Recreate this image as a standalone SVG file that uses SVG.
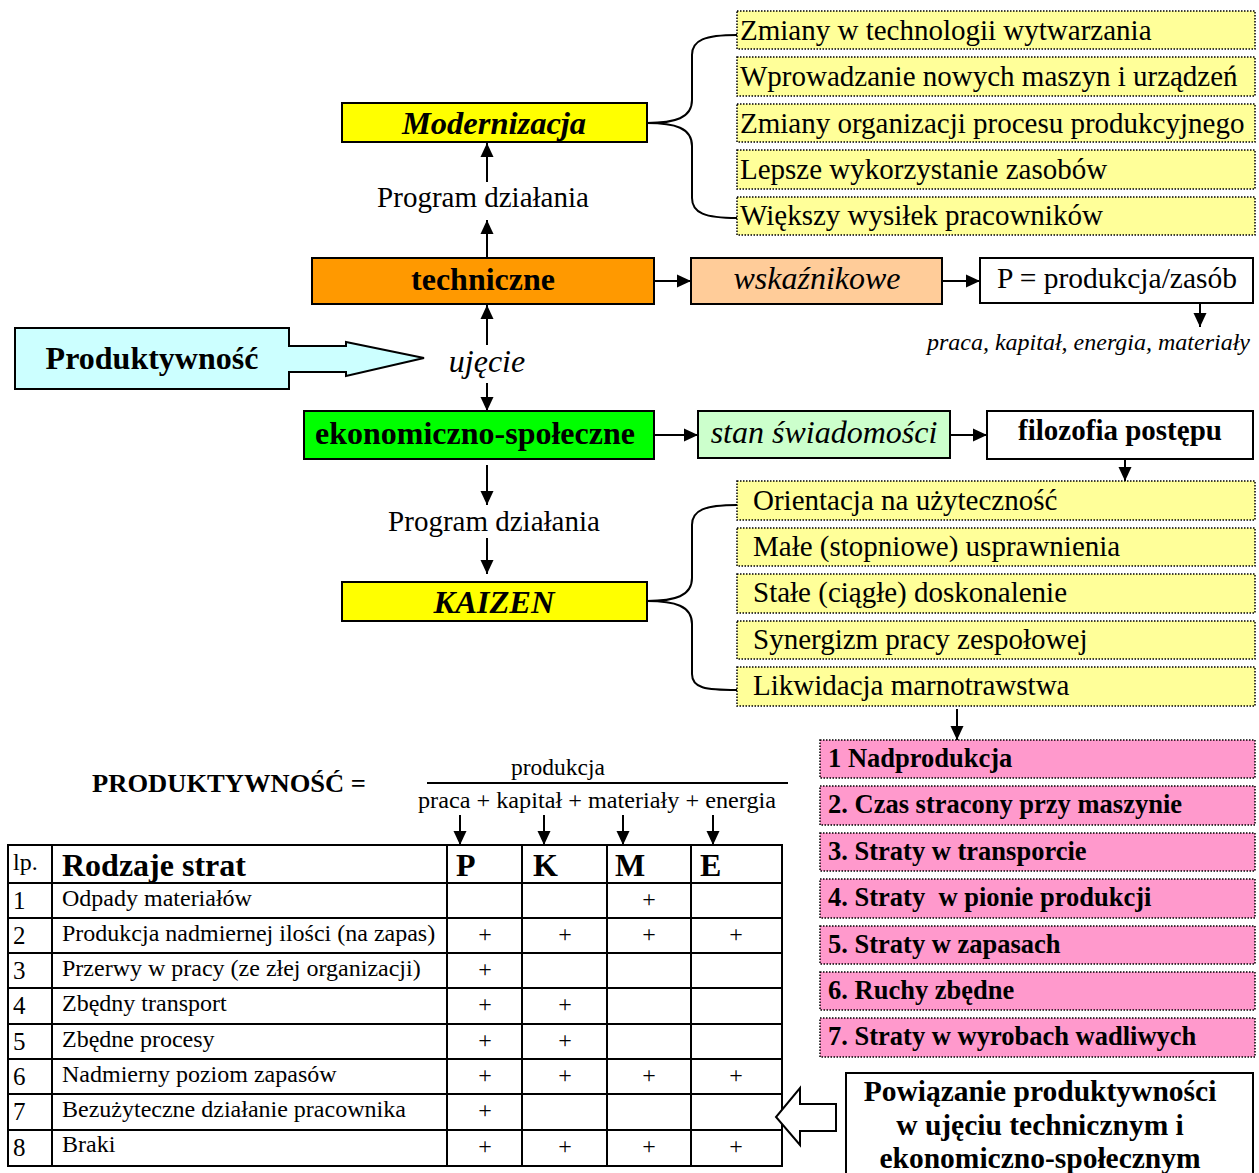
<svg xmlns="http://www.w3.org/2000/svg" width="1259" height="1173" viewBox="0 0 1259 1173">
<defs>
<marker id="ah" viewBox="0 0 14 14" refX="14" refY="7" markerWidth="14" markerHeight="14" markerUnits="userSpaceOnUse" orient="auto">
<path d="M0,0.5 L14,7 L0,13.5 z" fill="#000"/>
</marker>
<style>
text{font-family:"Liberation Serif","Times New Roman",serif;fill:#000}
.solid{stroke:#000;stroke-width:2}
.dot{stroke:#000;stroke-width:1.5;stroke-dasharray:1.5 1.5}
.yl{fill:#FFFF99}
.pk{fill:#FF99CC}
.t29{font-size:29px}
.b{font-weight:bold}
.i{font-style:italic}
.c{text-anchor:middle}
.pb{font-weight:bold;font-size:26.5px}
.conn{stroke:#000;stroke-width:2;fill:none}
.arr{stroke:#000;stroke-width:2;fill:none;marker-end:url(#ah)}
.cell{font-size:24px}
.grid{stroke:#000;stroke-width:2;fill:none}
</style>
</defs>

<!-- connectors -->
<g id="connectors">
<line class="arr" x1="487" y1="258" x2="487" y2="220"/>
<line class="arr" x1="487" y1="182" x2="487" y2="143"/>
<line class="arr" x1="487" y1="345" x2="487" y2="305"/>
<line class="arr" x1="487" y1="383" x2="487" y2="411"/>
<line class="arr" x1="487" y1="465" x2="487" y2="505"/>
<line class="arr" x1="487" y1="538" x2="487" y2="574"/>
<line class="arr" x1="654" y1="281" x2="691" y2="281"/>
<line class="arr" x1="942" y1="281" x2="980" y2="281"/>
<line class="arr" x1="1200" y1="303" x2="1200" y2="327"/>
<line class="arr" x1="654" y1="435" x2="698" y2="435"/>
<line class="arr" x1="950" y1="435" x2="987" y2="435"/>
<line class="arr" x1="1125" y1="459" x2="1125" y2="481"/>
<line class="arr" x1="957" y1="709" x2="957" y2="740"/>
<line class="arr" x1="460" y1="815" x2="460" y2="845"/>
<line class="arr" x1="544" y1="815" x2="544" y2="845"/>
<line class="arr" x1="623" y1="815" x2="623" y2="845"/>
<line class="arr" x1="713" y1="815" x2="713" y2="845"/>
<!-- braces -->
<path class="conn" d="M647,123 C675,123 692,118 692,100 L692,55 C692,40 705,35 737,35 M647,123 C675,123 692,128 692,146 L692,198 C692,213 705,218 737,218"/>
<path class="conn" d="M647,601 C675,601 692,596 692,578 L692,525 C692,510 705,505 737,505 M647,601 C675,601 692,606 692,624 L692,674 C692,688 705,690 737,690"/>
</g>

<!-- top yellow list -->
<g id="mod-list">
<rect class="yl dot" x="737" y="11" width="518" height="38"/>
<rect class="yl dot" x="737" y="57" width="518" height="39"/>
<rect class="yl dot" x="737" y="104" width="518" height="38"/>
<rect class="yl dot" x="737" y="150" width="518" height="39"/>
<rect class="yl dot" x="737" y="197" width="518" height="38"/>
<text class="t29" x="740" y="40">Zmiany w technologii wytwarzania</text>
<text class="t29" x="740" y="86">Wprowadzanie nowych maszyn i urządzeń</text>
<text class="t29" x="740" y="133">Zmiany organizacji procesu produkcyjnego</text>
<text class="t29" x="740" y="179">Lepsze wykorzystanie zasobów</text>
<text class="t29" x="740" y="225">Większy wysiłek pracowników</text>
</g>

<g id="modernizacja">
<rect class="solid" fill="#FFFF00" x="342" y="103" width="305" height="39"/>
<text class="b i c" font-size="32.5" x="494" y="134">Modernizacja</text>
</g>

<g id="program1"><text class="t29 c" x="483" y="207">Program działania</text></g>

<g id="techniczne">
<rect class="solid" fill="#FF9900" x="312" y="258" width="342" height="46"/>
<text class="b c" font-size="32" x="483" y="290">techniczne</text>
</g>

<g id="wskaznikowe">
<rect class="solid" fill="#FFCC99" x="691" y="258" width="251" height="46"/>
<text class="i c" font-size="32" x="817" y="289">wskaźnikowe</text>
</g>

<g id="pformula">
<rect class="solid" fill="#fff" x="980" y="258" width="273" height="45"/>
<text class="c" font-size="29.5" x="1117" y="288">P = produkcja/zasób</text>
<text class="i" font-size="24" x="1250" y="350" text-anchor="end">praca, kapitał, energia, materiały</text>
</g>

<g id="produktywnosc">
<path class="solid" fill="#CCFFFF" d="M15,328 L289,328 L289,346 L346,346 L346,342 L424,358 L346,376 L346,372 L289,372 L289,389 L15,389 Z"/>
<text class="b c" font-size="32" x="152" y="369">Produktywność</text>
</g>

<g id="ujecie"><text class="i c" font-size="32" x="487" y="372">ujęcie</text></g>

<g id="ekonomiczno">
<rect class="solid" fill="#00FF00" x="304" y="411" width="350" height="48"/>
<text class="b c" font-size="32" x="475" y="444">ekonomiczno-społeczne</text>
</g>

<g id="stan">
<rect class="solid" fill="#CCFFCC" x="698" y="411" width="252" height="47"/>
<text class="i c" font-size="32" x="824" y="443">stan świadomości</text>
</g>

<g id="filozofia">
<rect class="solid" fill="#fff" x="987" y="411" width="266" height="48"/>
<text class="b c" font-size="29" x="1120" y="440">filozofia postępu</text>
</g>

<g id="program2"><text class="t29 c" x="494" y="531">Program działania</text></g>

<g id="kaizen">
<rect class="solid" fill="#FFFF00" x="342" y="582" width="305" height="39"/>
<text class="b i c" font-size="32.5" x="494" y="613">KAIZEN</text>
</g>

<g id="kaizen-list">
<rect class="yl dot" x="737" y="481" width="518" height="39"/>
<rect class="yl dot" x="737" y="528" width="518" height="38"/>
<rect class="yl dot" x="737" y="574" width="518" height="39"/>
<rect class="yl dot" x="737" y="621" width="518" height="38"/>
<rect class="yl dot" x="737" y="667" width="518" height="39"/>
<text class="t29" x="753" y="510">Orientacja na użyteczność</text>
<text class="t29" x="753" y="556">Małe (stopniowe) usprawnienia</text>
<text class="t29" x="753" y="602">Stałe (ciągłe) doskonalenie</text>
<text class="t29" x="753" y="649">Synergizm pracy zespołowej</text>
<text class="t29" x="753" y="695">Likwidacja marnotrawstwa</text>
</g>

<g id="straty">
<rect class="pk dot" x="820" y="740" width="435" height="38"/>
<rect class="pk dot" x="820" y="786" width="435" height="39"/>
<rect class="pk dot" x="820" y="833" width="435" height="38"/>
<rect class="pk dot" x="820" y="879" width="435" height="39"/>
<rect class="pk dot" x="820" y="926" width="435" height="38"/>
<rect class="pk dot" x="820" y="972" width="435" height="38"/>
<rect class="pk dot" x="820" y="1018" width="435" height="39"/>
<text class="pb" x="828" y="767">1 Nadprodukcja</text>
<text class="pb" x="828" y="813">2. Czas stracony przy maszynie</text>
<text class="pb" x="828" y="860">3. Straty w transporcie</text>
<text class="pb" x="828" y="906" xml:space="preserve">4. Straty  w pionie produkcji</text>
<text class="pb" x="828" y="953">5. Straty w zapasach</text>
<text class="pb" x="828" y="999">6. Ruchy zbędne</text>
<text class="pb" x="828" y="1045">7. Straty w wyrobach wadliwych</text>
</g>

<g id="formula">
<text class="b" font-size="25" x="92" y="792" textLength="274" lengthAdjust="spacingAndGlyphs">PRODUKTYWNOŚĆ =</text>
<text class="c" font-size="23.5" x="558" y="775">produkcja</text>
<line x1="427" y1="783" x2="788" y2="783" stroke="#000" stroke-width="2"/>
<text font-size="23" x="418" y="808" textLength="358" lengthAdjust="spacingAndGlyphs">praca + kapitał + materiały + energia</text>
</g>

<g id="table">
<rect class="grid" x="8" y="845" width="774" height="321"/>
<g class="grid">
<line x1="52" y1="845" x2="52" y2="1166"/>
<line x1="447" y1="845" x2="447" y2="1166"/>
<line x1="522" y1="845" x2="522" y2="1166"/>
<line x1="607" y1="845" x2="607" y2="1166"/>
<line x1="691" y1="845" x2="691" y2="1166"/>
<line x1="8" y1="883" x2="782" y2="883"/>
<line x1="8" y1="918" x2="782" y2="918"/>
<line x1="8" y1="953" x2="782" y2="953"/>
<line x1="8" y1="988" x2="782" y2="988"/>
<line x1="8" y1="1024" x2="782" y2="1024"/>
<line x1="8" y1="1059" x2="782" y2="1059"/>
<line x1="8" y1="1094" x2="782" y2="1094"/>
<line x1="8" y1="1130" x2="782" y2="1130"/>
</g>
<text font-size="24" x="13" y="870">lp.</text>
<text class="b" font-size="32" x="62" y="876">Rodzaje strat</text>
<text class="b" font-size="32" x="456" y="876">P</text>
<text class="b" font-size="32" x="533" y="876">K</text>
<text class="b" font-size="32" x="615" y="876">M</text>
<text class="b" font-size="32" x="700" y="876">E</text>

<g font-size="25">
<text x="13" y="909">1</text>
<text x="13" y="944">2</text>
<text x="13" y="979">3</text>
<text x="13" y="1014">4</text>
<text x="13" y="1050">5</text>
<text x="13" y="1085">6</text>
<text x="13" y="1120">7</text>
<text x="13" y="1156">8</text>
</g>
<g class="cell">
<text x="62" y="906">Odpady materiałów</text>
<text x="62" y="941">Produkcja nadmiernej ilości (na zapas)</text>
<text x="62" y="976">Przerwy w pracy (ze złej organizacji)</text>
<text x="62" y="1011">Zbędny transport</text>
<text x="62" y="1047">Zbędne procesy</text>
<text x="62" y="1082">Nadmierny poziom zapasów</text>
<text x="62" y="1117">Bezużyteczne działanie pracownika</text>
<text x="62" y="1152">Braki</text>
</g>
<g class="cell c" fill="#000">
<text fill="#000" x="649" y="907">+</text>
<text fill="#000" x="485" y="942">+</text><text fill="#000" x="565" y="942">+</text><text fill="#000" x="649" y="942">+</text><text fill="#000" x="736" y="942">+</text>
<text fill="#000" x="485" y="977">+</text>
<text fill="#000" x="485" y="1012">+</text><text fill="#000" x="565" y="1012">+</text>
<text fill="#000" x="485" y="1048">+</text><text fill="#000" x="565" y="1048">+</text>
<text fill="#000" x="485" y="1083">+</text><text fill="#000" x="565" y="1083">+</text><text fill="#000" x="649" y="1083">+</text><text fill="#000" x="736" y="1083">+</text>
<text fill="#000" x="485" y="1118">+</text>
<text fill="#000" x="485" y="1154">+</text><text fill="#000" x="565" y="1154">+</text><text fill="#000" x="649" y="1154">+</text><text fill="#000" x="736" y="1154">+</text>
</g>
</g>

<g id="hollow-arrow">
<path d="M836,1104 L800,1104 L800,1088 L776,1117 L800,1145 L800,1131 L836,1131 Z" fill="#fff" stroke="#000" stroke-width="2"/>
</g>

<g id="powiazanie">
<rect class="solid" fill="#fff" x="846" y="1073" width="407" height="110"/>
<text class="b c" font-size="29.5" x="1040" y="1101">Powiązanie produktywności</text>
<text class="b c" font-size="29.5" x="1040" y="1135">w ujęciu technicznym i</text>
<text class="b c" font-size="29.5" x="1040" y="1168">ekonomiczno-społecznym</text>
</g>
</svg>
